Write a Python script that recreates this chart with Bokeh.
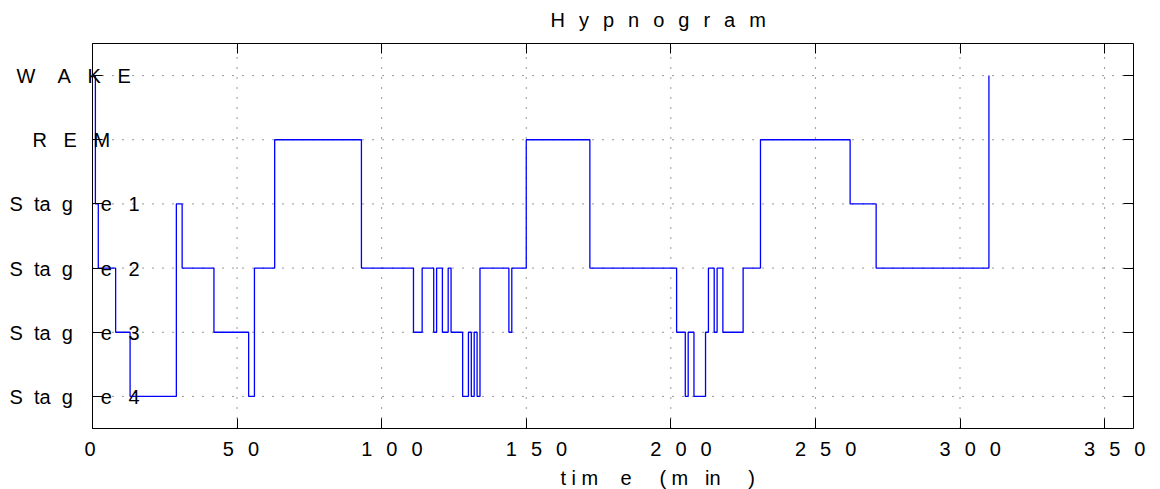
from bokeh.plotting import figure
from bokeh.models import Range1d, FixedTicker, LinearAxis, Label, CustomJSTickFormatter
from bokeh.embed import file_html
from bokeh.resources import INLINE

# ---------------- data ----------------
stage_names = ["Stage 4", "Stage 3", "Stage 2", "Stage 1", "REM", "WAKE"]
stage_levels = [1, 2, 3, 4, 5, 6]

# time (min) at which each stage begins
change_times = [0, 1, 2, 8, 13, 29, 31, 42, 54, 56, 63, 93,
                111, 114, 118, 119, 121, 123, 124, 128, 130, 131, 132, 133, 134,
                144, 145, 150, 172,
                202, 205, 206, 208, 212, 213, 215, 216, 218, 225, 231,
                262, 271, 310]
change_stages = ["WAKE", "Stage 1", "Stage 2", "Stage 3", "Stage 4", "Stage 1", "Stage 2",
                 "Stage 3", "Stage 4", "Stage 2", "REM", "Stage 2",
                 "Stage 3", "Stage 2", "Stage 3", "Stage 2", "Stage 3", "Stage 2", "Stage 3",
                 "Stage 4", "Stage 3", "Stage 4", "Stage 3", "Stage 4", "Stage 2",
                 "Stage 3", "Stage 2", "REM", "Stage 2",
                 "Stage 3", "Stage 4", "Stage 3", "Stage 4", "Stage 3", "Stage 2", "Stage 3",
                 "Stage 2", "Stage 3", "Stage 2", "REM",
                 "Stage 1", "Stage 2", "WAKE"]

x_ticks = [0, 50, 100, 150, 200, 250, 300, 350]
x_limits = (0, 360)
y_limits = (0.5, 6.5)
title_text = "Hypnogram"
xlabel_text = "time (min)"

# ---------------- layout / styling ----------------
W, H = 1160, 489
BOX_L, BOX_R, BOX_T, BOX_B = 92, 1133, 43, 428
FONT = "Liberation Sans"
FS = "20px"
NB = "\u00a0"
WIDE = "\u2002\u2009"

sx = (BOX_R - BOX_L) / (x_limits[1] - x_limits[0])
sy = (BOX_B - BOX_T) / (y_limits[1] - y_limits[0])
xr = Range1d(x_limits[0] - BOX_L / sx, x_limits[1] + (W - BOX_R) / sx)
yr = Range1d(y_limits[0] - (H - BOX_B) / sy, y_limits[1] + BOX_T / sy)

level_of = dict(zip(stage_names, stage_levels))
ys = [level_of[s] for s in change_stages]

p = figure(width=W, height=H, x_range=xr, y_range=yr,
           output_backend="svg", toolbar_location=None,
           x_axis_location=None, y_axis_location=None,
           min_border=0, min_border_left=0, min_border_right=0,
           min_border_top=0, min_border_bottom=0)
p.grid.visible = False
p.outline_line_color = None
p.background_fill_color = "white"
p.border_fill_color = "white"

blank = CustomJSTickFormatter(code="return ''")


def make_axis(ticks, loc, bounds):
    return LinearAxis(ticker=FixedTicker(ticks=ticks), formatter=blank,
                      fixed_location=loc, bounds=bounds,
                      major_tick_in=10, major_tick_out=0,
                      minor_tick_in=0, minor_tick_out=0,
                      axis_line_color="black", axis_line_width=1,
                      major_tick_line_color="black",
                      major_label_text_font_size="1px")


# grid (dotted), drawn through the data scales from the tick arrays
p.segment(x0=x_ticks, y0=[y_limits[0]] * len(x_ticks),
          x1=x_ticks, y1=[y_limits[1]] * len(x_ticks),
          line_color="black", line_alpha=0.8, line_width=1, line_dash="1 9")
p.segment(x0=[x_limits[0]] * len(stage_levels), y0=stage_levels,
          x1=[x_limits[1]] * len(stage_levels), y1=stage_levels,
          line_color="black", line_alpha=0.8, line_width=1, line_dash="1 9")

p.step(x=change_times, y=ys, mode="after", line_color="#0000ff", line_width=1.3)

p.add_layout(make_axis(stage_levels, x_limits[0], y_limits), "left")
p.add_layout(make_axis(stage_levels, x_limits[1], y_limits), "right")
p.add_layout(make_axis(x_ticks, y_limits[0], x_limits), "below")
p.add_layout(make_axis(x_ticks, y_limits[1], x_limits), "above")


def spaced(parts, gaps):
    out = parts[0]
    for g, s in zip(gaps, parts[1:]):
        out += NB * g + s
    return out


def add_text(x, y, text, dx, dy):
    p.add_layout(Label(x=x, y=y, x_offset=dx, y_offset=dy, text=text,
                       text_font=FONT, text_font_size=FS, text_color="black",
                       text_align="left", text_baseline="middle"))


# y tick labels (wide letter spacing as in the reference)
ylab = {}
ylab_off = {}
for name in stage_names:
    if name.startswith("Stage"):
        ylab[name] = spaced(["S", "ta", "g", "e", name[-1]], [2, 2, 5, 3])
        ylab_off[name] = -83
ylab["WAKE"] = spaced(["W", "A", "K", "E"], [4, 3, 3])
ylab_off["WAKE"] = -76
ylab["REM"] = spaced(["R", "E", "M"], [3, 3])
ylab_off["REM"] = -60

for name, lvl in zip(stage_names, stage_levels):
    add_text(x_limits[0], lvl, ylab[name], ylab_off[name], -0.5)

# x tick labels
for t in x_ticks:
    s = str(t)
    add_text(t, y_limits[0], WIDE.join(s), -8 - 6.25 * (len(s) - 1), -20)

# title
add_text(x_limits[0], y_limits[1], WIDE.join(title_text), 458, 23.5)

# x axis label
add_text(x_limits[0], y_limits[0],
         spaced(["t", "i", "m", "e", "(", "m", "in", ")"], [1, 1, 4, 5, 1, 3, 5]),
         468, -49)

open("out.html", "w").write(file_html(p, INLINE))
